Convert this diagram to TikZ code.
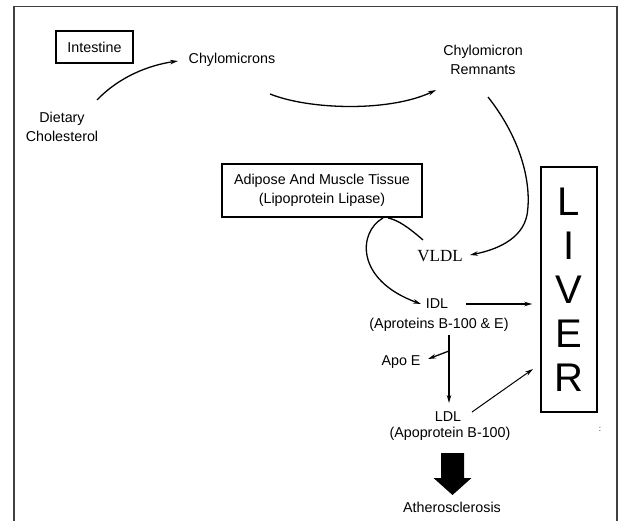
\documentclass[tikz,border=0pt]{standalone}
\usepackage{fontspec}
\setmainfont{Liberation Sans}
\newfontfamily\serifvl{Liberation Serif}
\usetikzlibrary{arrows.meta,calc}
\begin{document}
\begin{tikzpicture}[x=1bp,y=-1bp,
  lbl/.style={font=\fontsize{14.3bp}{18.5bp}\selectfont, align=center, inner sep=1bp},
  boxed/.style={draw, line width=1.5bp},
  arr/.style={line width=1.3bp, -{Stealth[length=8bp,width=4.5bp]}},
  ln/.style={line width=1.3bp}]
\useasboundingbox (0,0) rectangle (623,521);
\draw[line width=1.6bp, black!75] (14,521) -- (14,6.5) -- (617,6.5) -- (617,521);
% nodes
\node[boxed, lbl, minimum width=77bp, minimum height=32bp] (intestine) at (94.5,47) {Intestine};
\node[lbl] (chylo) at (232,60) {Chylomicrons};
\node[lbl] (diet) at (62,127) {Dietary\\Cholesterol};
\node[lbl] (remn) at (483,60) {Chylomicron\\Remnants};
\node[boxed, lbl, minimum width=200bp, minimum height=53bp] (adipose) at (322,190.5) {Adipose And Muscle Tissue\\(Lipoprotein Lipase)};
\node[font=\serifvl\fontsize{17bp}{20bp}\selectfont, inner sep=1bp] (vldl) at (440,256) {VLDL};
\node[lbl] (idl) at (437,304) {IDL};
\node[lbl] (idlsub) at (439,325) {(Aproteins B-100 \& E)};
\node[lbl] (apoe) at (401,362) {Apo E};
\node[lbl] (ldl) at (448,417) {LDL};
\node[lbl] (ldlsub) at (450,434) {(Apoprotein B-100)};
\node[lbl] (athero) at (452,507) {Atherosclerosis};
\node[boxed, minimum width=56bp, minimum height=245bp, font=\fontsize{40bp}{44bp}\selectfont, align=center, inner sep=0pt] (liver) at (569,289.5) {L\\I\\V\\E\\R};
\node[font=\fontsize{8bp}{8bp}\selectfont, inner sep=0pt] (dots) at (600,429) {:};
% connector end points
\coordinate (dietout) at (97,100);
\coordinate (chyloin) at (178,61);
\coordinate (chyloout) at (270,94);
\coordinate (remnin) at (436,90);
\coordinate (remnout) at (488,97);
\coordinate (vldlin) at (470,255);
\coordinate (vldlout) at (423,240);
\coordinate (adiposein) at (388,218);
\coordinate (adiposeout) at (383,218);
\coordinate (idlin) at (421,304);
\coordinate (idlsplit) at (449,335);
\coordinate (apoesplit) at (449,351);
\coordinate (apoein) at (428,359);
\coordinate (ldlin) at (449,403);
\coordinate (ldlout) at (472,412);
\coordinate (liverldl) at (533,369);
% connectors
\draw[arr] (dietout) .. controls (120,76) and (150,65) .. (chyloin);
\draw[arr] (chyloout) .. controls (310,110) and (390,112) .. (remnin);
\draw[arr] (remnout) .. controls (522,140) and (532,185) .. (527,215) .. controls (522,240) and (495,250) .. (vldlin);
\draw[ln] (vldlout) .. controls (408,227) and (398,220) .. (adiposein);
\draw[arr] (adiposeout) .. controls (358,232) and (355,280) .. (idlin);
\draw[arr, shorten <=17bp, shorten >=8bp] (idl.east) -- (liver.west |- idl.east);
\draw[arr] (idlsplit) -- (ldlin);
\draw[arr] (apoesplit) -- (apoein);
\draw[arr, line width=1bp] (ldlout) -- (liverldl);
% big arrow
\fill (441,453) -- (464,453) -- (464,478) -- (471.5,478) -- (452.5,495) -- (433.5,478) -- (441,478) -- cycle;
\end{tikzpicture}
\end{document}
